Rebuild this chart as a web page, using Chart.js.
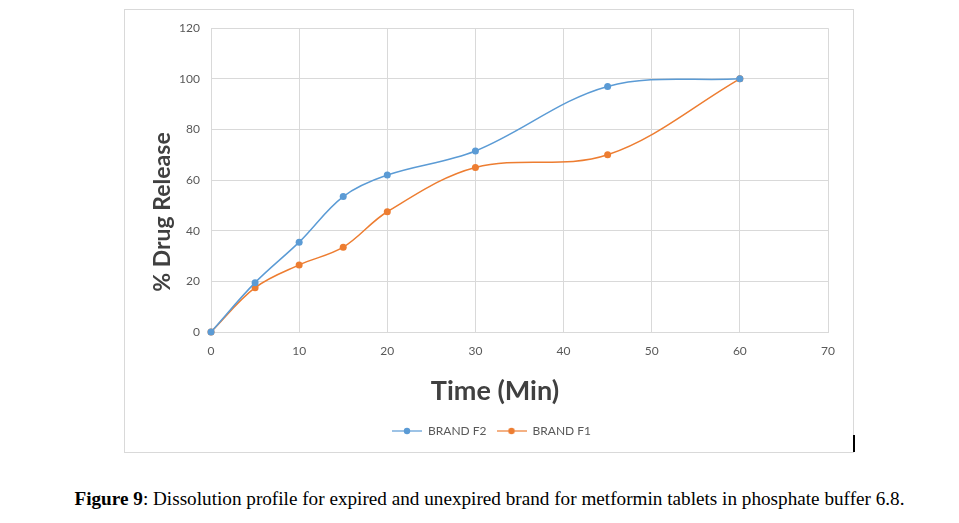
<!DOCTYPE html>
<html>
<head>
<meta charset="utf-8">
<script src="https://cdn.jsdelivr.net/npm/chart.js@4.4.1/dist/chart.umd.min.js"></script>
<style>
    body { margin: 0; background: #fff; width: 959px; height: 523px; position: relative; overflow: hidden; }
    #box { position: absolute; left: 124px; top: 9px; width: 730px; height: 444px; border: 1px solid #d9d9d9; box-sizing: border-box; }
    #wrap { position: absolute; left: 125px; top: 10px; width: 728px; height: 442px; }
    #mark { position: absolute; left: 853px; top: 435px; width: 2px; height: 17px; background: #000; }
    #caption { position: absolute; left: 10px; top: 488px; width: 959px; text-align: center; font-family: "Liberation Serif", "Times New Roman", serif; font-size: 19.2px; color: #000; white-space: nowrap; }
</style>
</head>
<body>
<div id="box"></div>
<div id="wrap"><canvas id="chart" width="728" height="442"></canvas></div>
<div id="mark"></div>
<div id="caption"><b>Figure 9</b>: Dissolution profile for expired and unexpired brand for metformin tablets in phosphate buffer 6.8.</div>
<script>
// Данные графика
const timePoints = [0, 5, 10, 15, 20, 30, 45, 60];
const brandF2 = [0, 19.5, 35.5, 53.5, 62, 71.5, 97, 100];
const brandF1 = [0, 17.5, 26.5, 33.5, 47.5, 65, 70, 100];
const seriesNames = ["BRAND F2", "BRAND F1"];
const seriesColors = ["#5B9BD5", "#ED7D31"];
const xTitle = "Time (Min)";
const yTitle = "% Drug Release";

// Маркер легенды: линия с точкой, как в Excel
function legendMarker(color) {
    const c = document.createElement("canvas");
    c.width = 30; c.height = 8;
    const g = c.getContext("2d");
    g.strokeStyle = color; g.lineWidth = 1.2;
    g.beginPath(); g.moveTo(0, 4); g.lineTo(30, 4); g.stroke();
    g.fillStyle = color;
    g.beginPath(); g.arc(15, 4, 3.2, 0, Math.PI * 2); g.fill();
    return c;
}

// Заголовки осей рисуем сами, чтобы центрировать как в исходнике
const axisTitles = {
    id: "axisTitles",
    afterDraw(chart) {
        const ctx = chart.ctx;
        ctx.save();
        ctx.fillStyle = "#404040";
        ctx.textAlign = "center";
        ctx.textBaseline = "middle";
        ctx.font = "bold 27px Lato, 'Open Sans', sans-serif";
        ctx.fillText(xTitle, 370, 381);
        ctx.font = "bold 23px Lato, 'Open Sans', sans-serif";
        ctx.translate(38, 202);
        ctx.rotate(-Math.PI / 2);
        ctx.fillText(yTitle, 0, 0);
        ctx.restore();
    }
};

function toPoints(values) {
    return timePoints.map((t, i) => ({ x: t, y: values[i] }));
}

const ctx = document.getElementById("chart");
new Chart(ctx, {
    type: "line",
    data: {
        datasets: [brandF2, brandF1].map((vals, i) => ({
            label: seriesNames[i],
            data: toPoints(vals),
            borderColor: seriesColors[i],
            backgroundColor: seriesColors[i],
            borderWidth: 1.5,
            pointRadius: 3.5,
            pointBorderWidth: 0,
            pointStyle: "circle",
            tension: 0.35,
            clip: false,
            fill: false
        }))
    },
    options: {
        responsive: false,
        animation: false,
        layout: { padding: { left: 30, right: 25, top: 16, bottom: 5 } },
        plugins: {
            tooltip: { enabled: false },
            legend: {
                position: "bottom",
                labels: {
                    usePointStyle: true,
                    pointStyleWidth: 30,
                    padding: 10,
                    color: "#595959",
                    font: { family: "Lato, 'Open Sans', sans-serif", size: 12 },
                    generateLabels(chart) {
                        return chart.data.datasets.map((ds, i) => ({
                            text: ds.label,
                            pointStyle: legendMarker(seriesColors[i]),
                            fontColor: "#595959",
                            strokeStyle: seriesColors[i],
                            fillStyle: seriesColors[i],
                            lineWidth: 0,
                            hidden: false,
                            datasetIndex: i
                        }));
                    }
                }
            }
        },
        scales: {
            x: {
                type: "linear",
                min: 0,
                max: 70,
                afterFit(scale) { scale.height = 83; },
                grid: { color: "#d9d9d9", drawTicks: false },
                border: { color: "#d9d9d9" },
                ticks: {
                    stepSize: 10,
                    padding: 12,
                    color: "#595959",
                    font: { family: "Lato, 'Open Sans', sans-serif", size: 12 }
                }
            },
            y: {
                min: 0,
                max: 120,
                afterFit(scale) { scale.width = 56; },
                grid: { color: "#d9d9d9", drawTicks: false },
                border: { color: "#d9d9d9" },
                ticks: {
                    stepSize: 20,
                    padding: 11,
                    color: "#595959",
                    font: { family: "Lato, 'Open Sans', sans-serif", size: 12 }
                }
            }
        }
    },
    plugins: [axisTitles]
});
</script>
</body>
</html>
